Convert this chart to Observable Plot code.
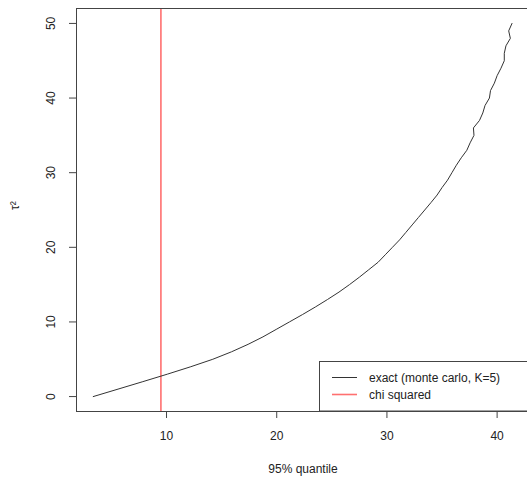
<!DOCTYPE html>
<html>
<head>
<meta charset="utf-8">
<script src="https://cdn.jsdelivr.net/npm/d3@7"></script>
<script src="https://cdn.jsdelivr.net/npm/@observablehq/plot@0.6"></script>
<style>
  body { margin: 0; background: #fff; }
  svg { display: block; }
</style>
</head>
<body>
<div id="chart"></div>
<script>
// tau^2 grid and estimated 95% quantile (exact, monte carlo K=5)
const tau2 = [0,1,2,3,4,5,6,7,8,9,10,11,12,13,14,15,16,17,18,19,20,21,22,23,24,25,26,27,28,29,30,31,32,33,34,35,36,37,38,39,40,41,42,43,44,45,46,47,48,49,50];
const quantile = [3.35,5.6,7.85,10.07,12.2,14.2,15.9,17.4,18.75,19.95,21.15,22.35,23.5,24.6,25.65,26.6,27.5,28.35,29.2,29.85,30.5,31.15,31.72,32.29,32.86,33.43,34.0,34.55,35.0,35.5,35.9,36.3,36.75,37.25,37.55,37.9,37.85,38.4,38.7,38.9,39.3,39.4,39.75,40.0,40.35,40.65,40.65,40.8,41.2,41.05,41.35];
const chiSquared = 9.49;
const xTicks = [10, 20, 30, 40];
const yTicks = [0, 10, 20, 30, 40, 50];
const legendLabels = ["exact (monte carlo, K=5)", "chi squared"];
const legendColors = ["#333333", "#ff7070"];

const data = tau2.map((t, i) => ({q: quantile[i], t}));
const xDomain = [1.83, 42.92];
const yDomain = [-2, 52];
const font = "'Liberation Sans', Arial, sans-serif";

const plot = Plot.plot({
  width: 527,
  height: 477,
  marginLeft: 76,
  marginRight: -2,
  marginTop: 8,
  marginBottom: 66,
  style: {fontFamily: font, fontSize: "12px", background: "#fff", color: "#222"},
  x: {domain: xDomain, range: [76, 528.8]},
  y: {domain: yDomain},
  marks: [
    Plot.ruleX([chiSquared], {stroke: legendColors[1], strokeWidth: 1.6}),
    Plot.line(data, {x: "q", y: "t", stroke: legendColors[0], strokeWidth: 1}),
    // box
    Plot.ruleX([xDomain[0]], {stroke: "#444", strokeWidth: 1}),
    Plot.ruleY([yDomain[0], yDomain[1]], {stroke: "#444", strokeWidth: 1}),
    // axes ticks
    Plot.axisX({ticks: xTicks, tickSize: 7, label: null, tickFormat: () => "", stroke: "#444"}),
    Plot.axisY({ticks: yTicks, tickSize: 7, label: null, tickFormat: () => "", stroke: "#444"}),
    // tick labels
    Plot.text(xTicks, {x: d => d, frameAnchor: "bottom", dy: 25, text: d => String(d), fill: "#222", lineAnchor: "middle", fontSize: 12}),
    Plot.text(yTicks, {y: d => d, frameAnchor: "left", dx: -25, rotate: -90, text: d => String(d), fill: "#222", textAnchor: "middle", lineAnchor: "middle", fontSize: 12}),
    // axis titles
    Plot.text(["95% quantile"], {frameAnchor: "bottom", dy: 58, text: d => d, fill: "#222", lineAnchor: "middle", fontSize: 12}),
    Plot.text(["τ²"], {frameAnchor: "left", dx: -61, rotate: -90, text: d => d, fill: "#222", lineAnchor: "middle", fontSize: 12})
  ]
});

document.getElementById("chart").appendChild(plot);

// legend (bottom right, inset 0)
const svg = d3.select(plot);
const lx = 319.5, ly = 361.5;
const g = svg.append("g").attr("font-family", font).attr("font-size", 12).attr("text-anchor", "start");
g.append("rect").attr("x", lx).attr("y", ly).attr("width", 220).attr("height", 411 - ly)
  .attr("fill", "#fff").attr("stroke", "#444").attr("stroke-width", 1);
legendLabels.forEach((lab, i) => {
  const yy = 377.5 + i * 17;
  g.append("line").attr("x1", 332).attr("x2", 357).attr("y1", yy).attr("y2", yy)
    .attr("stroke", legendColors[i]).attr("stroke-width", i === 1 ? 1.6 : 1);
  g.append("text").attr("x", 369).attr("y", yy).attr("dy", "0.35em")
    .attr("text-anchor", "start").attr("fill", "#222").text(lab);
});
</script>
</body>
</html>
